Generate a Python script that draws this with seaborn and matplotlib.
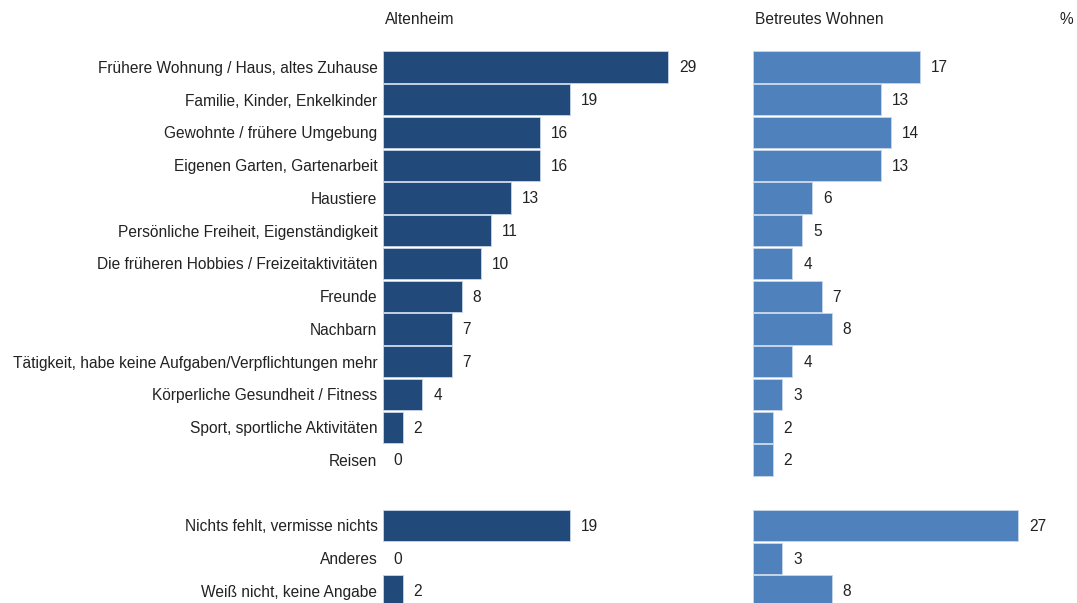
import matplotlib
matplotlib.use("Agg")
import matplotlib.pyplot as plt
import seaborn as sns
import pandas as pd
import numpy as np

sns.set_theme(style="white")
plt.rcParams['font.family'] = ['Liberation Sans', 'DejaVu Sans']

categories = [
    "Frühere Wohnung / Haus, altes Zuhause",
    "Familie, Kinder, Enkelkinder",
    "Gewohnte / frühere Umgebung",
    "Eigenen Garten, Gartenarbeit",
    "Haustiere",
    "Persönliche Freiheit, Eigenständigkeit",
    "Die früheren Hobbies / Freizeitaktivitäten",
    "Freunde",
    "Nachbarn",
    "Tätigkeit, habe keine Aufgaben/Verpflichtungen mehr",
    "Körperliche Gesundheit / Fitness",
    "Sport, sportliche Aktivitäten",
    "Reisen",
    "",
    "Nichts fehlt, vermisse nichts",
    "Anderes",
    "Weiß nicht, keine Angabe",
]
altenheim = [29, 19, 16, 16, 13, 11, 10, 8, 7, 7, 4, 2, 0, None, 19, 0, 2]
betreutes = [17, 13, 14, 13, 6, 5, 4, 7, 8, 4, 3, 2, 2, None, 27, 3, 8]

col_left = "#21497A"
col_right = "#4F81BD"
FS = 11.2

fig = plt.figure(figsize=(10.77, 6.03), dpi=100)
W, H = 1077, 603
px_per_unit = 9.83
xmax = 30
top_px = 50.6
bot_px = 67 + 16.5 * 32.75
axw = xmax * px_per_unit / W
ax1 = fig.add_axes([383 / W, 1 - bot_px / H, axw, (bot_px - top_px) / H])
ax2 = fig.add_axes([753 / W, 1 - bot_px / H, axw, (bot_px - top_px) / H])

for ax, vals, col, title in [(ax1, altenheim, col_left, "Altenheim"),
                             (ax2, betreutes, col_right, "Betreutes Wohnen")]:
    df = pd.DataFrame({"cat": [c if c else " " for c in categories],
                       "val": [v if v is not None else 0 for v in vals]})
    order = list(df["cat"])
    sns.barplot(data=df, x="val", y="cat", order=order, color=col,
                saturation=1, width=0.95, edgecolor="#c8d6ea", linewidth=0.6,
                ax=ax, errorbar=None)
    for p in ax.patches:
        if p.get_width() == 0:
            p.set_visible(False)
    for i, v in enumerate(vals):
        if v is None:
            continue
        ax.text(v + 1.1, i + 0.03, f"{v}", va="center", ha="left", fontsize=FS, color="#222222")
    ax.set_xlim(0, xmax)
    ax.set_ylim(16.5, -0.5)
    ax.set_xlabel("")
    ax.set_ylabel("")
    ax.set_xticks([])
    for s in ax.spines.values():
        s.set_visible(False)
    ax.tick_params(axis="y", length=0, pad=4, labelsize=FS, labelcolor="#222222")

ax1.set_yticks(range(len(categories)))
ax1.set_yticklabels(categories)
ax2.set_yticks([])

fig.text(385 / W, 1 - 20 / H, "Altenheim", fontsize=FS, va="center", ha="left", color="#222222")
fig.text(755 / W, 1 - 20 / H, "Betreutes Wohnen", fontsize=FS, va="center", ha="left", color="#222222")
fig.text(1073 / W, 1 - 20 / H, "%", fontsize=FS, va="center", ha="right", color="#222222")

fig.savefig("out.png", dpi=100)
